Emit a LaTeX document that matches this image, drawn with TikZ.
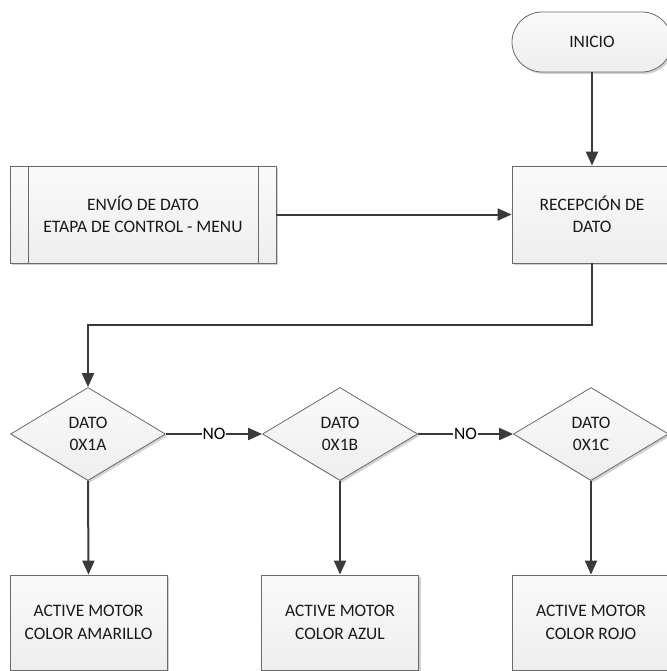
\documentclass[tikz,border=0pt]{standalone}
\usepackage{fontspec}
\setmainfont{Carlito}
\usetikzlibrary{arrows.meta,shapes.geometric,shadows,calc}
\definecolor{lineclr}{HTML}{3A3A3A}
\definecolor{edgeclr}{HTML}{6A6A6A}
\definecolor{boxtop}{HTML}{FAFAFA}
\definecolor{boxbot}{HTML}{EEEEEE}
\begin{document}
\begin{tikzpicture}[x=1pt,y=-1pt,
  font=\fontsize{17.5}{22.5}\selectfont,
  base/.style={draw=edgeclr, line width=0.8pt, top color=boxtop, bottom color=boxbot,
    align=center, inner sep=0pt, text=black!90,
    drop shadow={shadow xshift=2pt, shadow yshift=-2pt, opacity=0.18, fill=black}},
  procbox/.style={base, rectangle, minimum width=157pt, minimum height=95pt},
  termbox/.style={base, rectangle, rounded corners=30pt, minimum width=160pt, minimum height=60pt},
  decbox/.style={base, diamond, aspect=1.67, minimum width=155pt, minimum height=93pt},
  arr/.style={draw=lineclr, line width=2pt, -{Triangle[length=14pt,width=12pt]}},
  lbl/.style={fill=white, inner sep=1pt}
]
\useasboundingbox (0,0) rectangle (666,671);

% start terminal and receiving step
\node[termbox] (ini) at (592,42) {INICIO};
\node[procbox, minimum width=160pt, minimum height=97pt] (rec) at (592,214.5) {RECEPCIÓN DE\\DATO};

% predefined process: sending the data
\node[procbox, minimum width=266pt, minimum height=97pt] (env) at (143,214.5) {ENVÍO DE DATO\\ETAPA DE CONTROL - MENU};
\draw[edgeclr, line width=0.8pt] ($(env.north west)+(19,0)$) -- ($(env.south west)+(19,0)$);
\draw[edgeclr, line width=0.8pt] ($(env.north east)+(-18,0)$) -- ($(env.south east)+(-18,0)$);

% decisions
\node[decbox] (d1) at (88,434) {DATO\\0X1A};
\node[decbox] (d2) at (340,434) {DATO\\0X1B};
\node[decbox] (d3) at (591,434) {DATO\\0X1C};

% actions
\node[procbox] (b1) at (88.5,622.5) {ACTIVE MOTOR\\COLOR AMARILLO};
\node[procbox] (b2) at (340,622.5) {ACTIVE MOTOR\\COLOR AZUL};
\node[procbox] (b3) at (591,622.5) {ACTIVE MOTOR\\COLOR ROJO};

% connectors
\draw[arr] (ini.south) -- (rec.north);
\draw[arr] (env.east) -- (rec.west);
\draw[arr] (rec.south) -- ++(0,62) -| (d1.north);
\draw[arr] (d1.east) -- node[lbl] {NO} (d2.west);
\draw[arr] (d2.east) -- node[lbl] {NO} (d3.west);
\draw[arr] (d1.south) -- (b1.north);
\draw[arr] (d2.south) -- (b2.north);
\draw[arr] (d3.south) -- (b3.north);
\end{tikzpicture}
\end{document}
